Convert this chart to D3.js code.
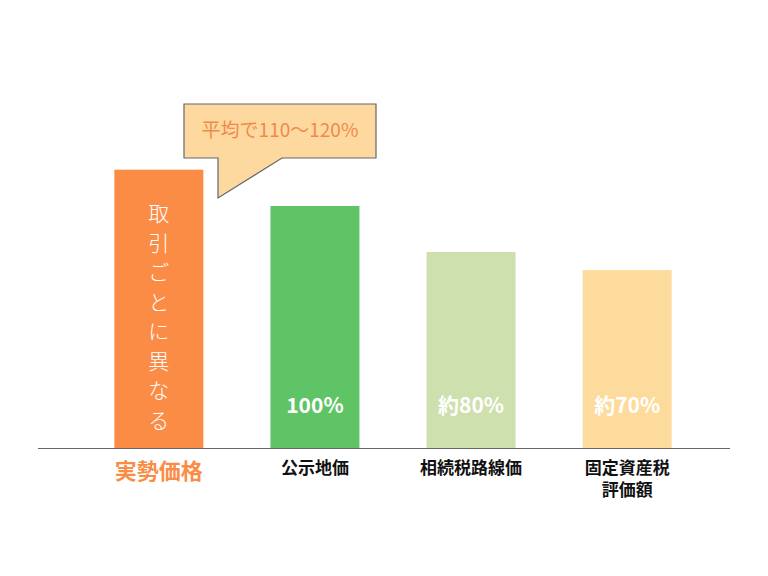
<!DOCTYPE html><html><head><meta charset="utf-8"><script src="https://cdn.jsdelivr.net/npm/d3@7"></script>
<style>body{margin:0;background:#fff}text{font-family:"Noto Sans CJK JP",sans-serif}</style></head><body><svg id="c" width="768" height="576"></svg>
<script>
const categories=["実勢価格","公示地価","相続税路線価","固定資産税評価額"];
const labelLines=[["実勢価格"],["公示地価"],["相続税路線価"],["固定資産税","評価額"]];
const values=[115,100,81,73.5];
const valueLabels=["","100%","約80%","約70%"];
const colors=["#fb8c46","#5fc466","#cee0ad","#fddb9c"];
const verticalText="取引ごとに異なる";
const calloutText="平均で110〜120%";
const svg=d3.select("#c");
const x=d3.scaleBand().domain(categories).range([80,706]).paddingInner(0.43).paddingOuter(0.22);
const y=d3.scaleLinear().domain([0,100]).range([448,206]);
svg.selectAll("rect.bar").data(values).join("rect").attr("class","bar")
 .attr("x",(d,i)=>x(categories[i])).attr("width",x.bandwidth())
 .attr("y",d=>y(d)).attr("height",d=>448-y(d)).attr("fill",(d,i)=>colors[i]);
svg.append("line").attr("x1",38).attr("x2",730).attr("y1",448.5).attr("y2",448.5).attr("stroke","#666").attr("stroke-width",1.2);
svg.selectAll("text.val").data(valueLabels).join("text").attr("class","val")
 .attr("x",(d,i)=>x(categories[i])+x.bandwidth()/2).attr("y",413).attr("text-anchor","middle")
 .attr("fill","#fff").attr("font-size",21).attr("font-weight","bold").text(d=>d);
const g=svg.selectAll("g.lab").data(labelLines).join("g").attr("class","lab");
g.each(function(lines,i){
 lines.forEach((t,j)=>d3.select(this).append("text").attr("x",x(categories[i])+x.bandwidth()/2)
  .attr("y",i==0?479:474+j*22).attr("text-anchor","middle")
  .attr("font-size",i==0?22:17).attr("font-weight","bold").attr("fill",i==0?"#fb8c46":"#111").text(t));
});
const cx=x(categories[0])+x.bandwidth()/2;
Array.from(verticalText).forEach((ch,k)=>svg.append("text").attr("x",cx).attr("y",221+k*29.5)
 .attr("text-anchor","middle").attr("fill","#fff").attr("font-size",21).attr("font-weight",300).text(ch));
svg.append("path").attr("d","M184,104 L376,104 L376,158 L282,158 L218,198 L218,158 L184,158 Z")
 .attr("fill","#fdd9a0").attr("stroke","#666").attr("stroke-width",1.2);
svg.append("text").attr("x",280).attr("y",137).attr("text-anchor","middle").attr("fill","#f08a4b").attr("font-size",19).text(calloutText);
</script></body></html>
